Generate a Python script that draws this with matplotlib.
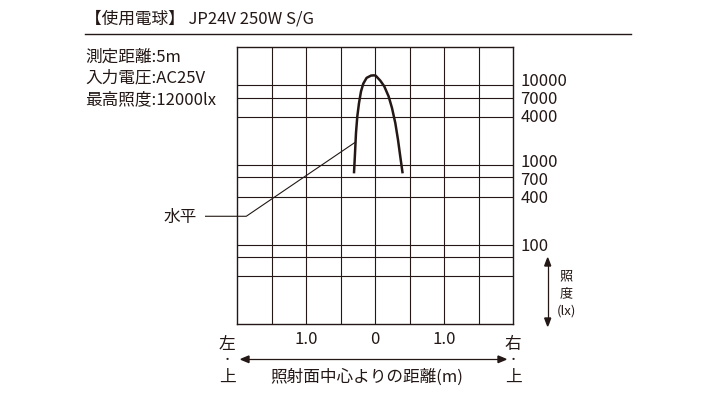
import numpy as np
import matplotlib.pyplot as plt

plt.rcParams['font.family'] = ['Noto Sans CJK JP', 'DejaVu Sans']

INK = "#231815"

# ---------------------------------------------------------------------------
# Data
# ---------------------------------------------------------------------------
curve_x = [-0.309, -0.294, -0.280, -0.261, -0.236, -0.207, -0.174, -0.126,
           -0.062, -0.022, 0.004, 0.072, 0.130, 0.193, 0.242, 0.290,
           0.329, 0.362, 0.396]
curve_lx = [785, 1405, 2510, 4060, 6000, 8400, 10500, 12400,
            13250, 13330, 13250, 11460, 9710, 7260, 5190, 3360,
            2070, 1275, 785]

grid_lx = [10000, 7000, 4000, 1000, 700, 400, 100, 70, 40]
label_lx = [10000, 7000, 4000, 1000, 700, 400, 100]
col_edges = [-2.0, -1.5, -1.0, -0.5, 0.0, 0.5, 1.0, 1.5, 2.0]
xtick_pos = [-1.0, 0.0, 1.0]
xtick_labels = ["1.0", "0", "1.0"]

title = "【使用電球】 JP24V 250W S/G"
specs = ["測定距離:5m", "入力電圧:AC25V", "最高照度:12000lx"]

# small vertical nudges of the right-hand labels (points), as in the print
label_dy = [3, -1.5, 0, 2, -2, -1.5, -1]

W, H = 715, 395


def fx(px):
    return px / W


def fy(py):
    return 1 - py / H


fig = plt.figure(figsize=(W / 100, H / 100), dpi=100)
ax = fig.add_axes([fx(237.3), fy(324.3), 276 / W, 277 / H])

ax.set_yscale("log")
ax.set_xlim(-2, 2)
ax.set_ylim(10, 30000)

for v in grid_lx:
    ax.axhline(v, color=INK, lw=0.8, zorder=1)
for c in col_edges[1:-1]:
    ax.axvline(c, color=INK, lw=0.8, zorder=1)
for s in ax.spines.values():
    s.set_color(INK)
    s.set_linewidth(1.0)

ax.plot(curve_x, curve_lx, color=INK, lw=1.8, zorder=3,
        solid_capstyle="butt", solid_joinstyle="round")

# leader line for "水平"
ax.plot([-2.46, -1.87, -0.29], [227, 227, 1930], color=INK, lw=0.8,
        clip_on=False, zorder=2)
fig.text(fx(197), fy(217), "水平", ha="right", va="center",
         fontsize=12, color=INK)

# right side labels
ax.set_yticks([])
ax.yaxis.set_minor_locator(plt.NullLocator())
for v, dy in zip(label_lx, label_dy):
    ax.annotate(str(v), xy=(1, v), xycoords=("axes fraction", "data"),
                xytext=(5, dy), textcoords="offset points",
                ha="left", va="center", fontsize=12, color=INK)

ax.set_xticks(xtick_pos)
ax.set_xticklabels(xtick_labels)
ax.tick_params(axis="x", length=0, pad=5, labelsize=12, labelcolor=INK)

# header
fig.text(fx(85), fy(19), title, ha="left", va="center", fontsize=12,
         color=INK)
fig.add_artist(plt.Line2D([fx(85), fx(631)], [fy(34), fy(34)],
                          color=INK, lw=1.0))
for i, s in enumerate(specs):
    fig.text(fx(85), fy([57, 78, 100][i]), s, ha="left", va="center",
             fontsize=12, color=INK)

# bottom axis caption
for x0, ch in [(227, "左"), (513, "右")]:
    fig.text(fx(x0), fy(344), ch, ha="center", va="center", fontsize=12,
             color=INK)
    fig.text(fx(x0), fy(360), "・", ha="center", va="center", fontsize=8,
             color=INK)
    fig.text(fx(x0), fy(377), "上", ha="center", va="center", fontsize=12,
             color=INK)
fig.add_artist(plt.Line2D([fx(244), fx(503)], [fy(359.3), fy(359.3)],
                          color=INK, lw=0.9))
fig.patches.append(plt.Polygon([[fx(241), fy(359.3)], [fx(249), fy(356)],
                                [fx(249), fy(362.6)]], closed=True,
                               transform=fig.transFigure, color=INK))
fig.patches.append(plt.Polygon([[fx(506), fy(359.3)], [fx(498), fy(356)],
                                [fx(498), fy(362.6)]], closed=True,
                               transform=fig.transFigure, color=INK))
fig.text(fx(367), fy(377), "照射面中心よりの距離(m)", ha="center",
         va="center", fontsize=12, color=INK)

# right illuminance arrow
fig.add_artist(plt.Line2D([fx(547.7), fx(547.7)], [fy(262), fy(323)],
                          color=INK, lw=0.9))
fig.patches.append(plt.Polygon([[fx(547.7), fy(258)], [fx(544.7), fy(266)],
                                [fx(550.7), fy(266)]], closed=True,
                               transform=fig.transFigure, color=INK))
fig.patches.append(plt.Polygon([[fx(547.7), fy(326)], [fx(544.7), fy(318)],
                                [fx(550.7), fy(318)]], closed=True,
                               transform=fig.transFigure, color=INK))
for y0, s in [(277, "照"), (294, "度"), (311, "(lx)")]:
    fig.text(fx(566), fy(y0), s, ha="center", va="center", fontsize=9.5,
             color=INK)

fig.savefig("out.png", dpi=100)
